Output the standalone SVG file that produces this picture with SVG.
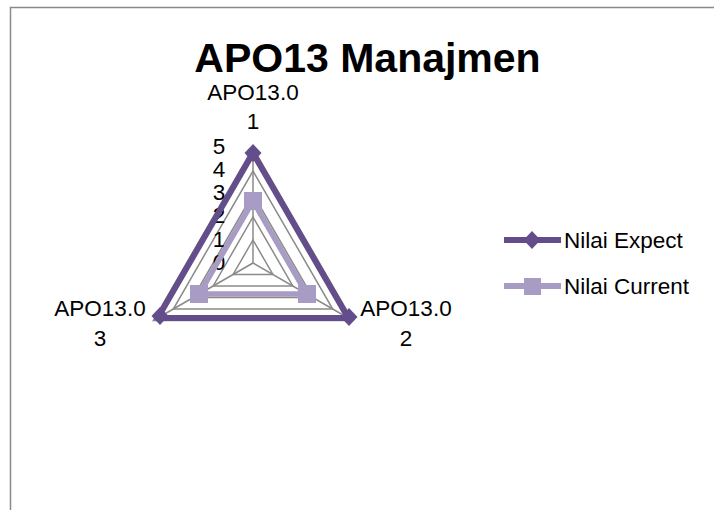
<svg xmlns="http://www.w3.org/2000/svg" width="714" height="510" viewBox="0 0 714 510">
  <style>
    .lbl { font-family: "Liberation Sans", Arial, sans-serif; font-size: 22.5px; fill: #000; }
    .title { font-family: "Liberation Sans", Arial, sans-serif; font-size: 41px; font-weight: bold; fill: #000; }
    .grid { fill: none; stroke: #8a8a8a; stroke-width: 1.5; }
    .expect { fill: none; stroke: #634d8b; stroke-width: 6; stroke-linejoin: round; }
    .current { fill: none; stroke: #a99cc4; stroke-width: 5.5; stroke-linejoin: round; }
  </style>
  <defs>
    <path id="diamond" d="M0,-9 L8.5,0 L0,9 L-8.5,0 Z" fill="#634d8b"/>
    <rect id="square" x="-9" y="-9" width="18" height="18" fill="#a99cc4"/>
  </defs>

  <rect width="714" height="510" fill="#fff"/>
  <!-- chart area frame -->
  <rect x="10.5" y="7.5" width="720" height="520" fill="none" stroke="#8a8a8a" stroke-width="1.5"/>

  <text class="title" x="367.5" y="72" text-anchor="middle">APO13 Manajmen</text>

  <!-- radar grid: centre (253,263), 23 px per unit -->
  <g id="grid">
    <polygon class="grid" points="253,240 272.9,274.5 233.1,274.5"/>
    <polygon class="grid" points="253,217 292.8,286 213.2,286"/>
    <polygon class="grid" points="253,194 312.8,297.5 193.2,297.5"/>
    <polygon class="grid" points="253,171 332.7,309 173.3,309"/>
    <polygon class="grid" points="253,148 352.6,320.5 153.4,320.5"/>
    <line class="grid" x1="253" y1="263" x2="253" y2="148"/>
    <line class="grid" x1="253" y1="263" x2="352.6" y2="320.5"/>
    <line class="grid" x1="253" y1="263" x2="153.4" y2="320.5"/>
  </g>

  <!-- value scale -->
  <g id="scale" class="lbl" text-anchor="middle">
    <text x="219" y="270">0</text>
    <text x="219" y="246.7">1</text>
    <text x="219" y="223.4">2</text>
    <text x="219" y="200">3</text>
    <text x="219" y="176.8">4</text>
    <text x="219" y="153.5">5</text>
  </g>

  <!-- category labels -->
  <g id="axis-apo13-01" class="lbl" text-anchor="middle">
    <text x="253" y="100">APO13.0</text>
    <text x="253" y="129">1</text>
  </g>
  <g id="axis-apo13-02" class="lbl" text-anchor="middle">
    <text x="406" y="316">APO13.0</text>
    <text x="406" y="346">2</text>
  </g>
  <g id="axis-apo13-03" class="lbl" text-anchor="middle">
    <text x="100" y="316">APO13.0</text>
    <text x="100" y="346">3</text>
  </g>

  <!-- data series -->
  <g id="series-expect">
    <polygon class="expect" points="253,153 348.3,318 157.7,318"/>
    <use href="#diamond" x="253" y="153"/>
    <use href="#diamond" x="349" y="317"/>
    <use href="#diamond" x="160" y="316"/>
  </g>
  <g id="series-current">
    <polygon class="current" points="253,201 306.8,294 199.2,294"/>
    <use href="#square" x="253" y="201"/>
    <use href="#square" x="307" y="294"/>
    <use href="#square" x="199" y="294"/>
  </g>

  <!-- legend -->
  <g id="legend-expect">
    <line x1="504" y1="240" x2="561" y2="240" stroke="#634d8b" stroke-width="6"/>
    <use href="#diamond" x="532" y="240"/>
    <text class="lbl" x="564" y="248">Nilai Expect</text>
  </g>
  <g id="legend-current">
    <line x1="504" y1="286" x2="561" y2="286" stroke="#a99cc4" stroke-width="6"/>
    <rect x="524" y="278" width="17" height="17" fill="#a99cc4"/>
    <text class="lbl" x="564" y="294">Nilai Current</text>
  </g>
</svg>
